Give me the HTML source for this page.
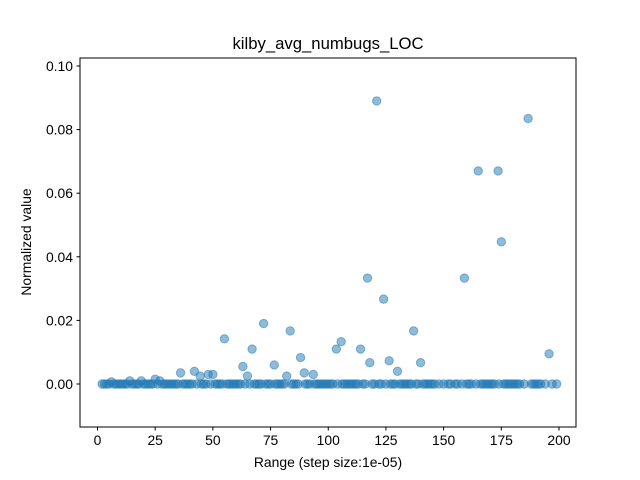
<!DOCTYPE html>
<html><head><meta charset="utf-8"><style>
body{margin:0;background:#fff}
svg{display:block;font-family:"Liberation Sans","DejaVu Sans",sans-serif}
</style></head><body>
<svg id="chart" width="640" height="480" viewBox="0 0 640 480">
<rect width="640" height="480" fill="#fff"/>
<text x="328" y="49" text-anchor="middle" font-size="16.7">kilby_avg_numbugs_LOC</text>
<g id="marks"></g>
<g id="axes"></g>
<rect x="80" y="58" width="496" height="369" fill="none" stroke="#000" stroke-width="1"/>
<text x="328" y="467" text-anchor="middle" font-size="13.9">Range (step size:1e-05)</text>
<text transform="translate(31,242) rotate(-90)" text-anchor="middle" font-size="13.9">Normalized value</text>
</svg>
<script>
const zeroX=[2,3,4,5,7,8,9,10,11,12,13,15,16,17,18,20,21,22,23,24,26,28,29,30,31,32,33,34,35,37,38,39,40,41,43,45,46,47,49,51,52,53,54,56,57,58,59,60,61,62,64,66,68,69,70,71,73,74,75,77,78,79,80,81,84,85,86,87,90,91,92,94,95,96,97,98,99,100,101,102,104,106,107,108,109,110,111,112,113,115,116,119,120,122,123,125,127,128,129,131,132,133,134,135,136,138,139,141,142,143,144,145,146,148,150,152,153,155,156,158,160,161,162,164,166,167,168,169,170,171,172,174,176,177,178,179,180,181,182,183,185,188,189,190,191,192,194,197,199];
const peakX=[6,14,19,25,27,36,42,44.5,48,50,55,63,65,67,72,76.6,82,83.5,88,89.6,93.5,103.5,105.6,114,117,118,121,124,126.4,130,137,140,159,165,173.6,175,186.6,195.7];
const peakY=[0.0007,0.001,0.001,0.0015,0.001,0.0035,0.004,0.0025,0.003,0.003,0.0142,0.0055,0.0025,0.011,0.019,0.006,0.0025,0.0167,0.0083,0.0035,0.003,0.011,0.0133,0.011,0.0333,0.0067,0.089,0.0267,0.0073,0.004,0.0167,0.0067,0.0333,0.067,0.067,0.0447,0.0835,0.0095];
const xTicks=[0,25,50,75,100,125,150,175,200];
const yTicks=[0,0.02,0.04,0.06,0.08,0.10];
const yTickLabels=["0.00","0.02","0.04","0.06","0.08","0.10"];
const NS="http://www.w3.org/2000/svg";
function sx(v){return 97.5+v*2.3075;}
function sy(v){return 384-v*3180;}
const marks=document.getElementById('marks');
function dot(x,y){
  const c=document.createElementNS(NS,'circle');
  
  
  c.setAttribute('cx',sx(x));c.setAttribute('cy',sy(y));c.setAttribute('r',4.2);
  c.setAttribute('fill','#1f77b4');c.setAttribute('fill-opacity','0.5');
  c.setAttribute('stroke','#1f77b4');c.setAttribute('stroke-opacity','0.5');c.setAttribute('stroke-width','1');
  marks.appendChild(c);
}
zeroX.forEach(x=>dot(x,0));
peakX.forEach((x,i)=>dot(x,peakY[i]));
const axes=document.getElementById('axes');
xTicks.forEach(t=>{
  const l=document.createElementNS(NS,'line');
  
  
  l.setAttribute('x1',sx(t));l.setAttribute('x2',sx(t));l.setAttribute('y1',427);l.setAttribute('y2',430.5);l.setAttribute('stroke','#000');
  axes.appendChild(l);
  const tx=document.createElementNS(NS,'text');
  
  
  tx.setAttribute('x',sx(t));tx.setAttribute('y',445);tx.setAttribute('text-anchor','middle');tx.setAttribute('font-size','13.9');
  tx.textContent=String(t);axes.appendChild(tx);
});
yTicks.forEach((t,i)=>{
  const l=document.createElementNS(NS,'line');
  
  
  l.setAttribute('x1',76.5);l.setAttribute('x2',80);l.setAttribute('y1',sy(t));l.setAttribute('y2',sy(t));l.setAttribute('stroke','#000');
  axes.appendChild(l);
  const tx=document.createElementNS(NS,'text');
  
  
  tx.setAttribute('x',73);tx.setAttribute('y',sy(t)+5);tx.setAttribute('text-anchor','end');tx.setAttribute('font-size','13.9');
  tx.textContent=yTickLabels[i];axes.appendChild(tx);
});
</script>
</body></html>
